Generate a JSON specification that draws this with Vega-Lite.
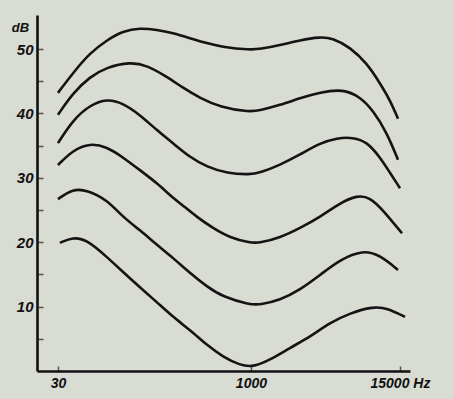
{
  "$schema": "https://vega.github.io/schema/vega-lite/v6.json",
  "width": 373,
  "height": 356,
  "autosize": "none",
  "padding": {"left": 37, "top": 15, "right": 44, "bottom": 28},
  "background": "#d9dcd2",
  "config": {"view": {"stroke": null}},
  "data": {"values": [
    {"c":1,"f":30,"db":43.2},{"c":1,"f":39.4,"db":46.3},{"c":1,"f":53.6,"db":49.4},{"c":1,"f":73.1,"db":51.4},{"c":1,"f":97.7,"db":52.8},{"c":1,"f":133,"db":53.3},{"c":1,"f":181,"db":53.0},{"c":1,"f":242,"db":52.5},{"c":1,"f":330,"db":51.7},{"c":1,"f":450,"db":50.9},{"c":1,"f":602,"db":50.3},{"c":1,"f":983,"db":49.9},{"c":1,"f":1178,"db":50.0},{"c":1,"f":1695,"db":50.6},{"c":1,"f":2438,"db":51.4},{"c":1,"f":3506,"db":51.9},{"c":1,"f":4441,"db":51.7},{"c":1,"f":6047,"db":50.3},{"c":1,"f":8238,"db":47.8},{"c":1,"f":10430,"db":44.7},{"c":1,"f":12510,"db":42.1},{"c":1,"f":14470,"db":39.2},
    {"c":2,"f":30,"db":39.8},{"c":2,"f":39.4,"db":43.2},{"c":2,"f":53.6,"db":45.7},{"c":2,"f":73.1,"db":47.2},{"c":2,"f":111,"db":48.0},{"c":2,"f":151,"db":47.5},{"c":2,"f":217,"db":45.7},{"c":2,"f":291,"db":44.0},{"c":2,"f":396,"db":42.4},{"c":2,"f":570,"db":41.0},{"c":2,"f":983,"db":40.2},{"c":2,"f":1178,"db":40.5},{"c":2,"f":1695,"db":41.3},{"c":2,"f":2438,"db":42.4},{"c":2,"f":3506,"db":43.3},{"c":2,"f":5324,"db":43.8},{"c":2,"f":7253,"db":42.6},{"c":2,"f":9187,"db":40.5},{"c":2,"f":11850,"db":37.0},{"c":2,"f":14470,"db":32.8},
    {"c":3,"f":30,"db":35.4},{"c":3,"f":39.4,"db":39.0},{"c":3,"f":53.6,"db":41.3},{"c":3,"f":73.1,"db":42.3},{"c":3,"f":97.7,"db":41.6},{"c":3,"f":133,"db":39.8},{"c":3,"f":181,"db":37.4},{"c":3,"f":242,"db":35.4},{"c":3,"f":330,"db":33.2},{"c":3,"f":450,"db":31.7},{"c":3,"f":647,"db":30.7},{"c":3,"f":983,"db":30.5},{"c":3,"f":1178,"db":30.8},{"c":3,"f":1695,"db":32.0},{"c":3,"f":2438,"db":33.6},{"c":3,"f":3506,"db":35.4},{"c":3,"f":4775,"db":36.2},{"c":3,"f":6388,"db":36.3},{"c":3,"f":8238,"db":35.6},{"c":3,"f":10430,"db":33.2},{"c":3,"f":12510,"db":30.8},{"c":3,"f":15010,"db":28.4},
    {"c":4,"f":30,"db":32.0},{"c":4,"f":39.4,"db":34.3},{"c":4,"f":53.6,"db":35.4},{"c":4,"f":73.1,"db":34.8},{"c":4,"f":97.7,"db":33.2},{"c":4,"f":133,"db":31.2},{"c":4,"f":181,"db":29.2},{"c":4,"f":242,"db":26.9},{"c":4,"f":275,"db":26.1},{"c":4,"f":375,"db":23.9},{"c":4,"f":502,"db":22.2},{"c":4,"f":683,"db":20.7},{"c":4,"f":983,"db":19.9},{"c":4,"f":1178,"db":19.9},{"c":4,"f":1695,"db":20.7},{"c":4,"f":2438,"db":22.2},{"c":4,"f":3506,"db":23.9},{"c":4,"f":5043,"db":26.1},{"c":4,"f":6867,"db":27.3},{"c":4,"f":8699,"db":27.0},{"c":4,"f":11020,"db":25.0},{"c":4,"f":15560,"db":21.4},
    {"c":5,"f":30,"db":26.7},{"c":5,"f":39.4,"db":28.3},{"c":5,"f":50.8,"db":28.1},{"c":5,"f":73.1,"db":26.6},{"c":5,"f":97.7,"db":23.9},{"c":5,"f":133,"db":21.9},{"c":5,"f":181,"db":19.6},{"c":5,"f":242,"db":17.6},{"c":5,"f":330,"db":15.2},{"c":5,"f":450,"db":13.1},{"c":5,"f":602,"db":11.5},{"c":5,"f":983,"db":10.3},{"c":5,"f":1178,"db":10.3},{"c":5,"f":1695,"db":11.0},{"c":5,"f":2438,"db":12.6},{"c":5,"f":3506,"db":14.9},{"c":5,"f":5043,"db":17.3},{"c":5,"f":7661,"db":18.8},{"c":5,"f":10430,"db":18.0},{"c":5,"f":14470,"db":15.7},
    {"c":6,"f":31.1,"db":19.9},{"c":6,"f":39.4,"db":20.8},{"c":6,"f":50.8,"db":20.4},{"c":6,"f":73.1,"db":17.7},{"c":6,"f":97.7,"db":15.4},{"c":6,"f":133,"db":13.0},{"c":6,"f":181,"db":10.7},{"c":6,"f":242,"db":8.4},{"c":6,"f":330,"db":6.4},{"c":6,"f":450,"db":4.0},{"c":6,"f":602,"db":2.2},{"c":6,"f":819,"db":0.9},{"c":6,"f":1038,"db":0.6},{"c":6,"f":1413,"db":1.7},{"c":6,"f":2032,"db":3.6},{"c":6,"f":2924,"db":5.3},{"c":6,"f":4205,"db":7.5},{"c":6,"f":6047,"db":9.0},{"c":6,"f":9187,"db":10.0},{"c":6,"f":11850,"db":9.8},{"c":6,"f":16430,"db":8.4}
  ]},
  "mark": {"type": "line", "interpolate": "basis", "color": "#141414", "strokeWidth": 2.6, "clip": false},
  "encoding": {
    "detail": {"field": "c", "type": "nominal"},
    "x": {
      "field": "f", "type": "quantitative",
      "scale": {"type": "log", "domain": [20.5, 18000], "nice": false},
      "axis": {
        "values": [30, 1000, 15000], "format": "d",
        "labelExpr": "datum.value == 15000 ? '15000 Hz' : datum.label",
        "title": null, "grid": false,
        "domainColor": "#111111", "domainWidth": 2.6,
        "tickColor": "#555555", "tickSize": -5, "tickWidth": 1.5,
        "labelFont": "Liberation Sans", "labelFontSize": 14, "labelFontWeight": "bold", "labelFontStyle": "italic",
        "labelColor": "#111111", "labelPadding": 10, "labelFlush": false
      }
    },
    "y": {
      "field": "db", "type": "quantitative",
      "scale": {"domain": [0, 55.3], "nice": false, "zero": false},
      "axis": {
        "values": [5, 10, 15, 20, 25, 30, 35, 40, 45, 50],
        "labelExpr": "datum.value % 10 == 0 ? datum.label : ''",
        "grid": false,
        "domainColor": "#111111", "domainWidth": 2.6,
        "tickColor": "#555555", "tickSize": -6, "tickWidth": 1.5,
        "labelFont": "Liberation Sans", "labelFontSize": 15, "labelFontWeight": "bold", "labelFontStyle": "italic",
        "labelColor": "#111111", "labelPadding": 10,
        "title": "dB", "titleAngle": 0, "titleX": -17, "titleY": 12, "titleAlign": "center", "titleBaseline": "middle",
        "titleFont": "Liberation Sans", "titleFontSize": 13, "titleFontWeight": "bold", "titleFontStyle": "italic", "titleColor": "#111111"
      }
    }
  }
}
